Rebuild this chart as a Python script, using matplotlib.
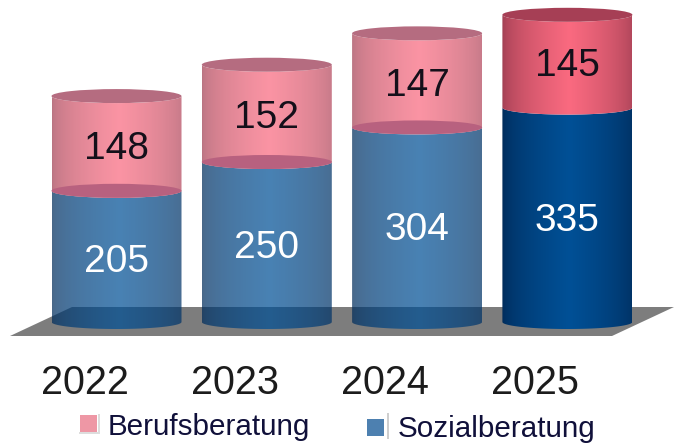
import numpy as np
import matplotlib
matplotlib.use("Agg")
import matplotlib.pyplot as plt
from matplotlib.patches import Ellipse, Polygon, Rectangle, PathPatch
from matplotlib.path import Path
from matplotlib.colors import to_rgb

years = ["2022", "2023", "2024", "2025"]
sozial = [205, 250, 304, 335]
beruf = [148, 152, 147, 145]
labels = ["Berufsberatung", "Sozialberatung"]

W, H = 677, 443
plt.rcParams["font.family"] = ["Liberation Sans", "DejaVu Sans"]
fig = plt.figure(figsize=(W / 100, H / 100), dpi=100)
AX_BOTTOM = 336
ax = fig.add_axes([0, 1 - AX_BOTTOM / H, 1, AX_BOTTOM / H])

X0, STEP, Y0, SCALE = 116.5, 150.3, 322, 0.64
xlim = (-X0 / STEP, (W - X0) / STEP)
ylim = ((Y0 - AX_BOTTOM) / SCALE, Y0 / SCALE)
HALF = 65 / STEP
RY = 7 / SCALE
alphas = [0.72, 0.72, 0.72, 1.0]


def px(x, y):
    return (x - X0) / STEP, (Y0 - y) / SCALE


# floor
ax.add_patch(Polygon([px(10, 336), px(612, 336), px(674, 307), px(72, 307)],
                     closed=True, fc="#7d7d7d", ec="none", zorder=1, clip_on=False))


def gradient(dark, bright, alpha):
    t = np.linspace(0, 1, 256)
    s = np.clip(1 - np.abs(t - 0.52) / 0.52, 0, 1) ** 0.55
    d, b = np.array(to_rgb(dark)), np.array(to_rgb(bright))
    rgb = d[None, :] * (1 - s[:, None]) + b[None, :] * s[:, None]
    a = np.full((256, 1), alpha)
    return np.hstack([rgb, a])[None, :, :]


def body(xc, y0, y1, dark, bright, alpha, z):
    th = np.linspace(np.pi, 0, 60)
    bx = xc + HALF * np.cos(th)
    bottom = np.c_[bx, y0 - RY * np.sin(th)]
    top = np.c_[bx[::-1], y1 - RY * np.sin(th)]
    verts = np.vstack([bottom, top, bottom[:1]])
    clip = PathPatch(Path(verts), transform=ax.transData, fc="none", ec="none")
    ax.add_patch(clip)
    im = ax.imshow(gradient(dark, bright, alpha), extent=(xc - HALF, xc + HALF, y0 - RY, y1 + RY),
                   aspect="auto", zorder=z, interpolation="bilinear")
    im.set_clip_path(clip)


for i, (s, b, a) in enumerate(zip(sozial, beruf, alphas)):
    body(i, 0, s, "#012a58", "#005096", a, 2)
    body(i, s, s + b, "#9c3c50", "#fa6a80", a, 3)
    if a < 1:
        ax.add_patch(Ellipse((i, s), 2 * HALF, 2 * RY, fc="#b8617f", ec="none", zorder=4))
        cap = "#b56c80"
    else:
        cap = "#a63f55"
    ax.add_patch(Ellipse((i, s + b), 2 * HALF, 2 * RY, fc=cap, ec="none", zorder=4))
    ax.text(i, s / 2 - 9, str(s), color="white", fontsize=28, ha="center", va="center", zorder=6)
    ax.text(i, s + b / 2 - 8, str(b), color="#14101a", fontsize=28, ha="center", va="center", zorder=6)

ax.set_xlim(xlim)
ax.set_ylim(ylim)
ax.set_xticks(np.arange(len(years)) - 32 / STEP)
ax.set_xticklabels(years, fontsize=28.5, color="#1c1c1c")
ax.set_yticks([])
ax.tick_params(axis="x", length=0, pad=20)
for sp in ax.spines.values():
    sp.set_visible(False)
ax.patch.set_alpha(0)


def fr(x, y, w, h, **kw):
    fig.add_artist(Rectangle((x / W, 1 - (y + h) / H), w / W, h / H, transform=fig.transFigure, **kw))


# legend
fr(79, 432, 20, 2, fc="#dddddd", ec="none")
fr(98, 414, 2, 20, fc="#dddddd", ec="none")
fr(80, 415, 17, 17, fc="#ee97a5", ec="none")
fr(367, 419, 17, 17, fc="#4d80b0", ec="none")
fr(387, 413, 2, 26, fc="#cfcfcf", ec="none")
fig.text(108 / W, 1 - 435 / H, labels[0], fontsize=21.3, color="#10103a", ha="left", va="baseline")
fig.text(398 / W, 1 - 437 / H, labels[1], fontsize=21.3, color="#10103a", ha="left", va="baseline")

fig.savefig("out.png", dpi=100, facecolor="white")
